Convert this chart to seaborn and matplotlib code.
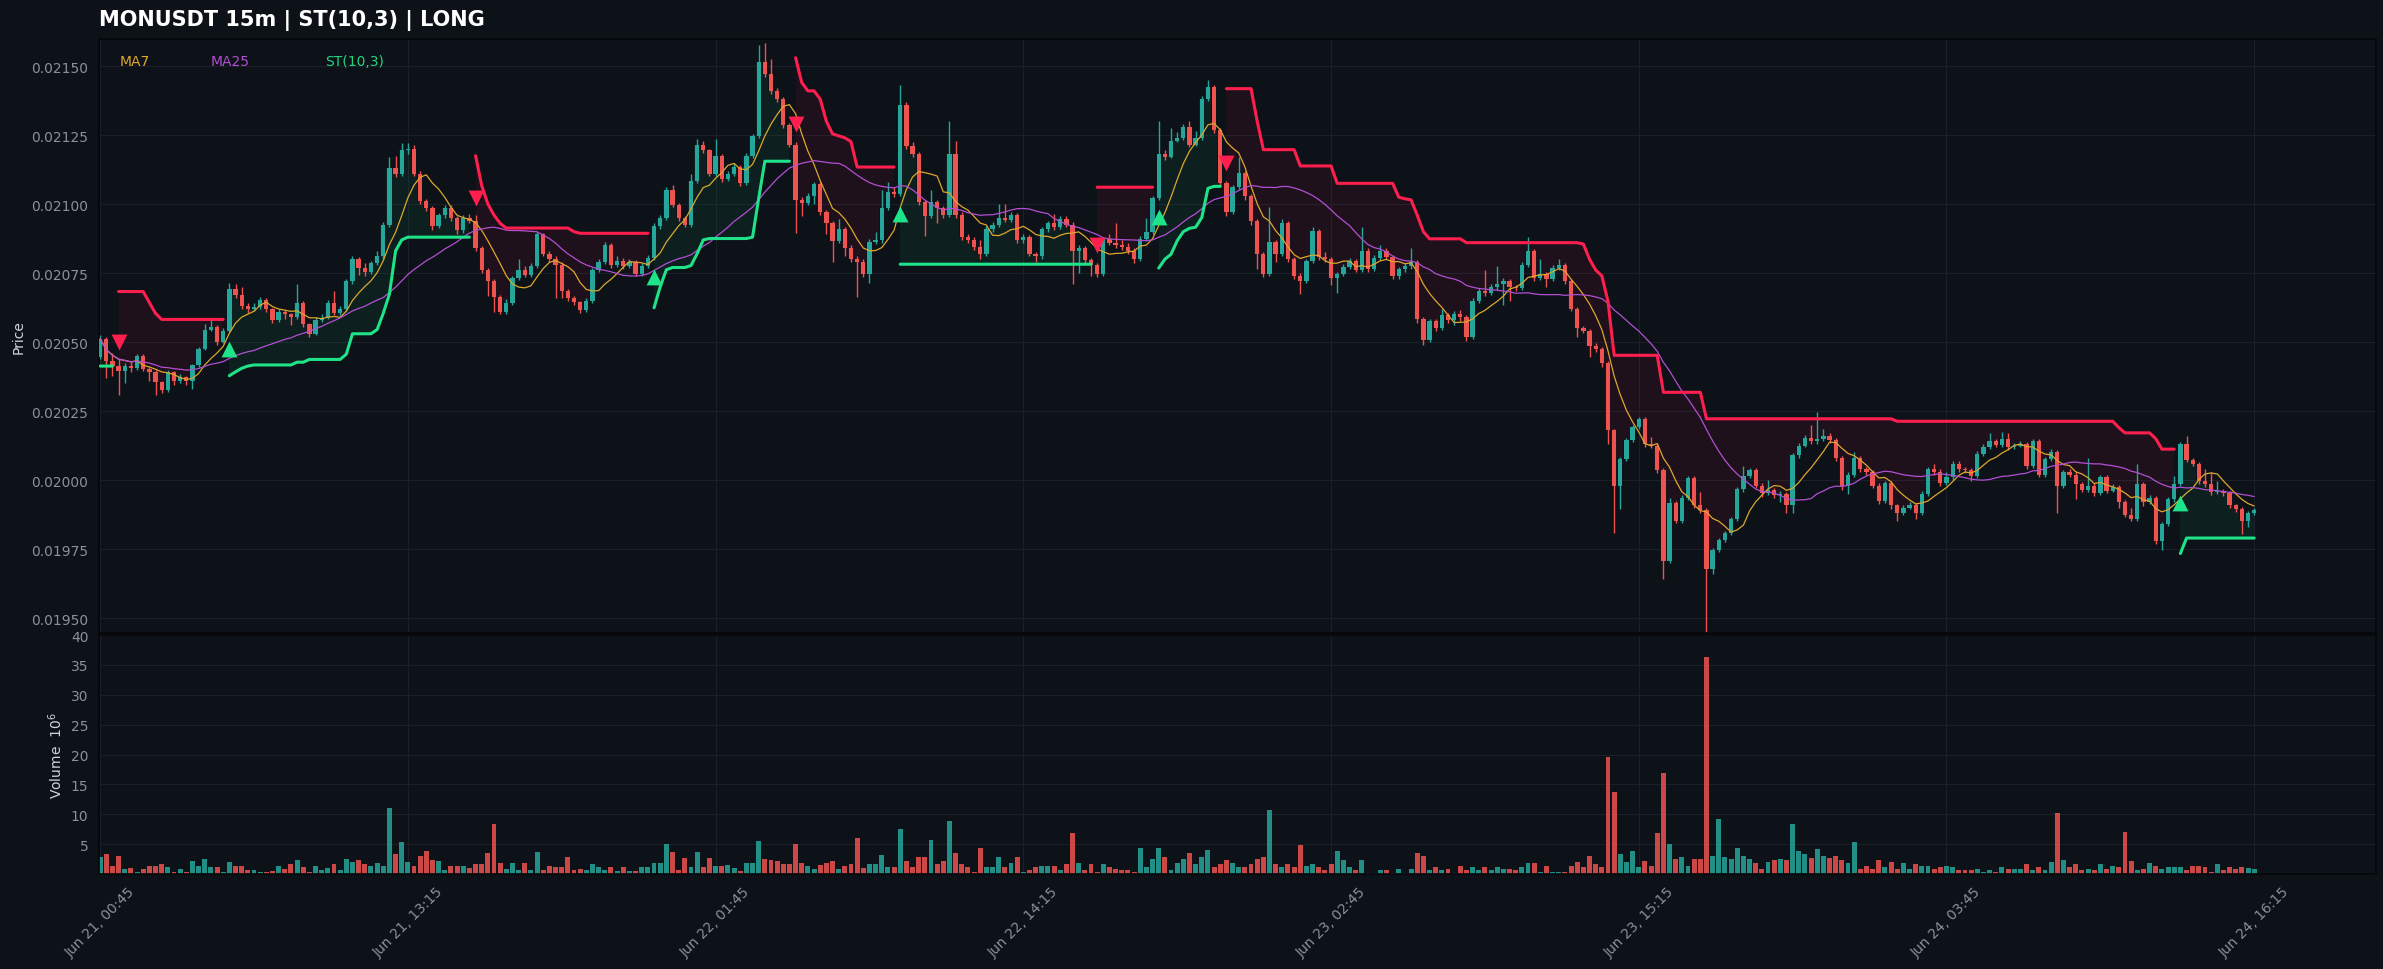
import numpy as np
import pandas as pd
import matplotlib
matplotlib.use("Agg")
import matplotlib.pyplot as plt
import seaborn as sns

bg = "#0d1118"
sns.set_theme(style="dark", rc={"axes.facecolor": bg, "figure.facecolor": bg,
                                "axes.edgecolor": "#05070a", "text.color": "#d0d4dc"})
plt.rcParams['font.family'] = ['DejaVu Sans']

UP = "#26a69a"
DOWN = "#ef5350"
ST_UP = "#1fe388"
ST_DOWN = "#ff1f4e"
MA7_C = "#dca72c"
MA25_C = "#b24fd2"
TICK_C = "#8b9099"

title = "MONUSDT 15m | ST(10,3) | LONG"
tick_labels = ["Jun 21, 00:45", "Jun 21, 13:15", "Jun 22, 01:45", "Jun 22, 14:15",
               "Jun 23, 02:45", "Jun 23, 15:15", "Jun 24, 03:45", "Jun 24, 16:15"]

# prices in units of 1e-6 USDT
opens = [
    20447, 20512, 20433, 20413, 20395, 20413, 20405, 20450, 20403, 20390,
    20355, 20328, 20390, 20360, 20372, 20358, 20417, 20476, 20545, 20555,
    20500, 20540, 20693, 20670, 20630, 20620, 20628, 20653, 20618, 20580,
    20610, 20600, 20590, 20640, 20565, 20530, 20580, 20588, 20640, 20605,
    20620, 20720, 20800, 20770, 20752, 20785, 20810, 20925, 21130, 21110,
    21195, 21200, 21110, 21010, 20985, 20920, 20960, 20985, 20950, 20905,
    20950, 20940, 20840, 20762, 20722, 20663, 20610, 20643, 20732, 20762,
    20742, 20775, 20890, 20820, 20800, 20780, 20685, 20660, 20645, 20615,
    20650, 20760, 20790, 20850, 20780, 20795, 20775, 20790, 20745, 20775,
    20805, 20920, 20950, 21050, 20998, 20950, 20925, 21085, 21215, 21195,
    21110, 21175, 21090, 21110, 21135, 21075, 21175, 21245, 21515, 21470,
    21410, 21380, 21285, 21215, 21015, 21005, 21030, 21071, 20972, 20930,
    20867, 20910, 20840, 20800, 20790, 20747, 20863, 20870, 20985, 21045,
    21035, 21360, 21210, 21180, 21008, 20958, 21008, 20985, 20960, 21183,
    20960, 20880, 20870, 20846, 20818, 20910, 20925, 20950, 20942, 20960,
    20868, 20880, 20820, 20810, 20910, 20930, 20915, 20944, 20925, 20830,
    20840, 20796, 20780, 20747, 20874, 20860, 20850, 20845, 20830, 20800,
    20874, 20900, 21022, 21183, 21170, 21230, 21240, 21280, 21215, 21240,
    21380, 21423, 21268, 21078, 20972, 21060, 21113, 21029, 20937, 20818,
    20747, 20863, 20818, 20930, 20800, 20740, 20722, 20793, 20902, 20807,
    20800, 20733, 20745, 20772, 20795, 20762, 20830, 20765, 20805, 20830,
    20808, 20738, 20764, 20775, 20790, 20585, 20508, 20575, 20550, 20597,
    20580, 20600, 20590, 20520, 20650, 20685, 20678, 20700, 20710, 20722,
    20700, 20695, 20780, 20830, 20733, 20745, 20727, 20770, 20778, 20720,
    20620, 20550, 20540, 20487, 20475, 20424, 20180, 19980, 20076, 20146,
    20193, 20220, 20130, 20124, 20037, 19706, 19917, 19853, 19936, 20007,
    19911, 19893, 19678, 19748, 19783, 19808, 19860, 19966, 20015, 20037,
    19980, 19952, 19965, 19945, 19950, 19910, 20090, 20125, 20152, 20140,
    20150, 20160, 20145, 20080, 19980, 20020, 20080, 20040, 20030, 19980,
    19925, 19990, 19910, 19880, 19900, 19910, 19880, 19950, 20040, 20030,
    19990, 20010, 20060, 20040, 20035, 20015, 20096, 20120, 20140, 20128,
    20150, 20120, 20125, 20130, 20050, 20140, 20020, 20075, 20100, 19980,
    20030, 20020, 19985, 19965, 19980, 19952, 20010, 19962, 19975, 19920,
    19875, 19860, 19985, 19920, 19935, 19780, 19840, 19930, 19985, 20130,
    20072, 20058, 19995, 19985, 19955, 19960, 19952, 19910, 19895, 19853,
    19880,
]
closes = [
    20512, 20433, 20413, 20395, 20413, 20405, 20450, 20403, 20390, 20355,
    20328, 20390, 20360, 20372, 20358, 20417, 20476, 20545, 20555, 20500,
    20540, 20693, 20670, 20630, 20620, 20628, 20653, 20618, 20580, 20610,
    20600, 20590, 20640, 20565, 20530, 20580, 20588, 20640, 20605, 20620,
    20720, 20800, 20770, 20752, 20785, 20810, 20925, 21130, 21110, 21195,
    21200, 21110, 21010, 20985, 20920, 20960, 20985, 20950, 20905, 20950,
    20940, 20840, 20762, 20722, 20663, 20610, 20643, 20732, 20762, 20742,
    20775, 20890, 20820, 20800, 20780, 20685, 20660, 20645, 20615, 20650,
    20760, 20790, 20850, 20780, 20795, 20775, 20790, 20745, 20775, 20805,
    20920, 20950, 21050, 20998, 20950, 20925, 21085, 21215, 21195, 21110,
    21175, 21090, 21110, 21135, 21075, 21175, 21245, 21515, 21470, 21410,
    21380, 21285, 21215, 21015, 21005, 21030, 21071, 20972, 20930, 20867,
    20910, 20840, 20800, 20790, 20747, 20863, 20870, 20985, 21045, 21035,
    21360, 21210, 21180, 21008, 20958, 21008, 20985, 20960, 21183, 20960,
    20880, 20870, 20846, 20818, 20910, 20925, 20950, 20942, 20960, 20868,
    20880, 20820, 20810, 20910, 20930, 20915, 20944, 20925, 20830, 20840,
    20796, 20780, 20747, 20874, 20860, 20850, 20845, 20830, 20800, 20874,
    20900, 21022, 21183, 21170, 21230, 21240, 21280, 21215, 21240, 21380,
    21423, 21268, 21078, 20972, 21060, 21113, 21029, 20937, 20818, 20747,
    20863, 20818, 20930, 20800, 20740, 20722, 20793, 20902, 20807, 20800,
    20733, 20745, 20772, 20795, 20762, 20830, 20765, 20805, 20830, 20808,
    20738, 20764, 20775, 20790, 20585, 20508, 20575, 20550, 20597, 20580,
    20600, 20590, 20520, 20650, 20685, 20678, 20700, 20710, 20722, 20700,
    20695, 20780, 20830, 20733, 20745, 20727, 20770, 20778, 20720, 20620,
    20550, 20540, 20487, 20475, 20424, 20180, 19980, 20076, 20146, 20193,
    20220, 20130, 20124, 20037, 19706, 19917, 19853, 19936, 20007, 19911,
    19893, 19678, 19748, 19783, 19808, 19860, 19966, 20015, 20037, 19980,
    19952, 19965, 19945, 19950, 19910, 20090, 20125, 20152, 20140, 20150,
    20160, 20145, 20080, 19980, 20020, 20080, 20040, 20030, 19980, 19925,
    19990, 19910, 19880, 19900, 19910, 19880, 19950, 20040, 20030, 19990,
    20010, 20060, 20040, 20035, 20015, 20096, 20120, 20140, 20128, 20150,
    20120, 20125, 20130, 20050, 20140, 20020, 20075, 20100, 19980, 20030,
    20020, 19985, 19965, 19980, 19952, 20010, 19962, 19975, 19920, 19875,
    19860, 19985, 19920, 19935, 19780, 19840, 19930, 19985, 20130, 20072,
    20058, 19995, 19985, 19955, 19960, 19952, 19910, 19895, 19853, 19880,
    19892,
]
highs = [
    20525, 20520, 20460, 20440, 20425, 20430, 20458, 20455, 20410, 20398,
    20360, 20398, 20395, 20385, 20378, 20420, 20482, 20565, 20585, 20562,
    20550, 20715, 20710, 20700, 20640, 20640, 20665, 20660, 20622, 20618,
    20615, 20605, 20710, 20648, 20570, 20590, 20600, 20652, 20685, 20630,
    20730, 20810, 20808, 20785, 20795, 20830, 20935, 21170, 21175, 21220,
    21220, 21215, 21118, 21020, 20992, 20968, 20995, 20995, 20955, 20962,
    20965, 20960, 20848, 20770, 20728, 20670, 20655, 20740, 20800, 20775,
    20785, 20898, 20895, 20830, 20810, 20790, 20692, 20668, 20650, 20660,
    20770, 20800, 20862, 20858, 20810, 20805, 20800, 20796, 20785, 20815,
    20930, 20962, 21060, 21070, 21005, 20958, 21110, 21235, 21230, 21200,
    21235, 21182, 21120, 21150, 21142, 21185, 21255, 21575, 21582, 21525,
    21420, 21388, 21292, 21225, 21025, 21040, 21080, 21080, 20980, 20940,
    20945, 20918, 20850, 20810, 20800, 20872, 20900, 21050, 21080, 21060,
    21430, 21370, 21225, 21190, 21015, 21050, 21015, 20992, 21300, 21230,
    20970, 20890, 20880, 20870, 20920, 20935, 21000, 21000, 20970, 20968,
    20890, 20888, 20828, 20918, 20940, 20965, 20955, 20955, 20935, 20850,
    20848, 20805, 20788, 20882, 20890, 20930, 20870, 20860, 20840, 20885,
    20950, 21030, 21300, 21195, 21275, 21260, 21290, 21300, 21265, 21392,
    21450, 21432, 21275, 21085, 21070, 21170, 21120, 21035, 20945, 20825,
    20990, 20870, 20945, 20940, 20808, 20750, 20800, 20918, 20910, 20825,
    20808, 20755, 20782, 20805, 20802, 20915, 20840, 20815, 20850, 20840,
    20815, 20772, 20785, 20840, 20798, 20592, 20582, 20582, 20620, 20605,
    20612, 20615, 20598, 20660, 20695, 20760, 20712, 20775, 20732, 20730,
    20708, 20790, 20880, 20838, 20800, 20752, 20778, 20800, 20785, 20728,
    20628, 20558, 20548, 20495, 20482, 20430, 20185, 20082, 20152, 20200,
    20228, 20228, 20155, 20132, 20045, 19935, 19925, 19945, 20015, 20015,
    19955, 19900, 19755, 19790, 19815, 19868, 19975, 20050, 20045, 20045,
    19988, 20000, 19972, 19960, 19958, 20098, 20135, 20162, 20200, 20245,
    20185, 20170, 20152, 20088, 20030, 20100, 20088, 20048, 20038, 19988,
    19998, 19998, 19915, 19910, 19920, 19918, 19960, 20048, 20060, 20040,
    20030, 20068, 20068, 20048, 20042, 20105, 20130, 20170, 20148, 20175,
    20170, 20135, 20140, 20138, 20148, 20148, 20085, 20112, 20108, 20038,
    20040, 20028, 19992, 20080, 19988, 20020, 20018, 19985, 19982, 19928,
    19900, 20060, 19992, 19945, 19942, 19848, 19938, 20015, 20138, 20160,
    20080, 20065, 20040, 20030, 19995, 19968, 19960, 19915, 19902, 19888,
    19900,
]
lows = [
    20437, 20368, 20378, 20309, 20350, 20392, 20398, 20395, 20360, 20309,
    20315, 20320, 20345, 20352, 20345, 20330, 20410, 20470, 20540, 20490,
    20495, 20535, 20660, 20620, 20605, 20612, 20620, 20610, 20570, 20572,
    20585, 20560, 20585, 20555, 20520, 20525, 20572, 20582, 20598, 20598,
    20612, 20712, 20742, 20740, 20745, 20778, 20800, 20915, 21098, 21100,
    21180, 21100, 21000, 20975, 20905, 20912, 20950, 20940, 20892, 20895,
    20930, 20830, 20750, 20668, 20610, 20600, 20600, 20635, 20725, 20735,
    20735, 20768, 20810, 20790, 20660, 20660, 20650, 20635, 20605, 20608,
    20642, 20752, 20782, 20770, 20772, 20765, 20768, 20738, 20738, 20768,
    20798, 20910, 20942, 20990, 20940, 20915, 20918, 21078, 21185, 21100,
    21102, 21080, 21082, 21102, 21065, 21068, 21168, 21238, 21460, 21400,
    21370, 21275, 21205, 20895, 20955, 20995, 21000, 20960, 20890, 20790,
    20860, 20810, 20790, 20665, 20735, 20715, 20855, 20860, 20978, 21025,
    21028, 21200, 21170, 20995, 20885, 20950, 20930, 20950, 20952, 20950,
    20870, 20860, 20835, 20800, 20810, 20900, 20918, 20935, 20935, 20858,
    20860, 20810, 20790, 20800, 20900, 20905, 20908, 20915, 20710, 20750,
    20785, 20740, 20735, 20740, 20850, 20840, 20835, 20820, 20788, 20792,
    20865, 20890, 21015, 21160, 21165, 21225, 21232, 21205, 21210, 21232,
    21372, 21258, 21068, 20955, 20965, 21055, 21015, 20925, 20765, 20735,
    20740, 20790, 20810, 20790, 20730, 20675, 20715, 20785, 20798, 20790,
    20705, 20678, 20738, 20765, 20752, 20755, 20755, 20758, 20798, 20800,
    20728, 20730, 20755, 20765, 20570, 20490, 20500, 20540, 20542, 20570,
    20560, 20575, 20505, 20512, 20642, 20668, 20670, 20690, 20635, 20650,
    20685, 20688, 20772, 20722, 20725, 20700, 20720, 20760, 20710, 20612,
    20520, 20532, 20445, 20465, 20410, 20130, 19810, 19895, 20068, 20138,
    20185, 20120, 20115, 20025, 19640, 19698, 19845, 19845, 19928, 19900,
    19880, 19427, 19660, 19740, 19775, 19800, 19852, 19958, 20008, 19970,
    19940, 19945, 19935, 19920, 19880, 19880, 20080, 20118, 20130, 20132,
    20142, 20135, 20070, 19965, 19950, 20010, 20030, 20020, 19970, 19915,
    19918, 19895, 19850, 19872, 19895, 19860, 19872, 19942, 20020, 19980,
    19982, 20002, 20030, 20025, 19995, 20008, 20088, 20112, 20118, 20120,
    20110, 20112, 20118, 20040, 20042, 20010, 20012, 20068, 19880, 19972,
    20010, 19930, 19955, 19958, 19942, 19945, 19952, 19955, 19900, 19865,
    19850, 19852, 19905, 19912, 19770, 19745, 19832, 19922, 19978, 20065,
    20050, 19985, 19975, 19945, 19948, 19942, 19900, 19885, 19805, 19830,
    19872,
]
# supertrend(10,3) level, same units
st_levels = [
    20413, 20413, 20413, 20683, 20683, 20683, 20683, 20683, 20643, 20604,
    20582, 20582, 20582, 20582, 20582, 20582, 20582, 20582, 20582, 20582,
    20582, 20378, 20392, 20405, 20413, 20417, 20417, 20417, 20417, 20417,
    20417, 20417, 20427, 20427, 20437, 20437, 20437, 20437, 20437, 20437,
    20456, 20530, 20530, 20530, 20530, 20545, 20604, 20673, 20830, 20870,
    20880, 20880, 20880, 20880, 20880, 20880, 20880, 20880, 20880, 20880,
    20880, 21175, 21067, 21000, 20960, 20930, 20913, 20913, 20913, 20913,
    20913, 20913, 20913, 20913, 20913, 20913, 20913, 20900, 20894, 20894,
    20894, 20894, 20894, 20894, 20894, 20894, 20894, 20894, 20894, 20894,
    20624, 20700, 20762, 20770, 20770, 20770, 20777, 20820, 20870, 20875,
    20875, 20875, 20875, 20875, 20875, 20875, 20880, 21020, 21155, 21155,
    21155, 21155, 21155, 21530, 21440, 21410, 21410, 21380, 21300, 21254,
    21247, 21240, 21226, 21134, 21134, 21134, 21134, 21134, 21134, 21134,
    20782, 20782, 20782, 20782, 20782, 20782, 20782, 20782, 20782, 20782,
    20782, 20782, 20782, 20782, 20782, 20782, 20782, 20782, 20782, 20782,
    20782, 20782, 20782, 20782, 20782, 20782, 20782, 20782, 20782, 20782,
    20782, 20782, 21061, 21061, 21061, 21061, 21061, 21061, 21061, 21061,
    21061, 21061, 20768, 20800, 20818, 20867, 20900, 20912, 20916, 20951,
    21057, 21064, 21064, 21418, 21418, 21418, 21418, 21418, 21300, 21197,
    21197, 21197, 21197, 21197, 21197, 21138, 21138, 21138, 21138, 21138,
    21138, 21075, 21075, 21075, 21075, 21075, 21075, 21075, 21075, 21075,
    21075, 21025, 21019, 21015, 20960, 20900, 20874, 20874, 20874, 20874,
    20874, 20874, 20860, 20860, 20860, 20860, 20860, 20860, 20860, 20860,
    20860, 20860, 20860, 20860, 20860, 20860, 20860, 20860, 20860, 20860,
    20860, 20855, 20800, 20761, 20740, 20647, 20452, 20452, 20452, 20452,
    20452, 20452, 20452, 20452, 20318, 20318, 20318, 20318, 20318, 20318,
    20318, 20222, 20222, 20222, 20222, 20222, 20222, 20222, 20222, 20222,
    20222, 20222, 20222, 20222, 20222, 20222, 20222, 20222, 20222, 20222,
    20222, 20222, 20222, 20222, 20222, 20222, 20222, 20222, 20222, 20222,
    20222, 20222, 20213, 20213, 20213, 20213, 20213, 20213, 20213, 20213,
    20213, 20213, 20213, 20213, 20213, 20213, 20213, 20213, 20213, 20213,
    20213, 20213, 20213, 20213, 20213, 20213, 20213, 20213, 20213, 20213,
    20213, 20213, 20213, 20213, 20213, 20213, 20213, 20213, 20190, 20171,
    20171, 20171, 20171, 20171, 20150, 20112, 20112, 20112, 19734, 19790,
    19790, 19790, 19790, 19790, 19790, 19790, 19790, 19790, 19790, 19790,
    19790,
]
# candles where the supertrend signal flips (read from the arrows); starts long
st_flips = [3, 21, 61, 90, 113, 130, 162, 172, 183, 338]
# volume in millions
volumes = [
    2.9, 3.3, 1.3, 3.0, 0.8, 1.0, 0.3, 0.9, 1.4, 1.3,
    1.6, 1.2, 0.3, 0.8, 0.4, 2.1, 1.4, 2.5, 1.1, 1.1,
    0.4, 2.0, 1.3, 1.3, 0.6, 0.7, 0.4, 0.4, 0.5, 1.3,
    0.8, 1.6, 2.3, 1.2, 0.3, 1.4, 0.7, 1.0, 1.6, 0.7,
    2.6, 2.0, 2.3, 1.6, 1.3, 1.8, 1.4, 11.1, 3.3, 5.4,
    2.0, 1.3, 3.1, 3.8, 2.3, 2.1, 0.6, 1.4, 1.4, 1.4,
    1.0, 1.6, 1.6, 3.6, 8.4, 1.8, 0.9, 1.8, 0.7, 1.8,
    0.7, 3.7, 0.7, 1.4, 1.2, 1.2, 2.8, 0.7, 0.9, 0.7,
    1.6, 1.2, 0.7, 1.2, 0.5, 1.2, 0.5, 0.5, 1.2, 1.2,
    1.9, 1.9, 5.0, 3.7, 0.7, 2.7, 1.2, 3.7, 1.2, 2.7,
    1.4, 1.4, 1.5, 1.0, 0.5, 1.9, 1.9, 5.5, 2.5, 2.4,
    2.1, 1.6, 1.6, 5.0, 1.9, 1.3, 0.9, 1.5, 1.8, 2.1,
    0.8, 1.3, 1.6, 6.1, 1.0, 1.6, 1.6, 3.2, 1.2, 1.2,
    7.6, 2.1, 1.1, 2.8, 2.9, 5.7, 1.6, 2.2, 8.8, 3.6,
    1.6, 1.2, 0.3, 4.3, 1.2, 1.2, 2.9, 1.2, 1.9, 2.9,
    0.4, 0.7, 1.2, 1.4, 1.4, 1.4, 0.6, 1.6, 6.8, 1.9,
    0.6, 1.6, 0.3, 1.6, 1.1, 0.8, 0.6, 0.6, 0.4, 4.3,
    1.2, 2.6, 4.3, 2.8, 0.6, 1.9, 2.6, 3.6, 1.6, 2.8,
    4.1, 1.1, 1.6, 2.3, 1.9, 1.1, 1.2, 1.6, 2.6, 2.9,
    10.7, 1.6, 1.2, 1.7, 1.1, 4.9, 1.4, 1.6, 1.2, 0.6,
    1.6, 3.9, 2.3, 1.2, 0.7, 2.3, 0.1, 0.1, 0.6, 0.6,
    0.1, 0.9, 0.1, 0.9, 3.6, 3.1, 0.6, 1.1, 0.7, 0.9,
    0.1, 1.4, 0.6, 1.2, 0.6, 1.1, 0.7, 1.1, 0.9, 0.9,
    0.7, 1.1, 1.8, 1.8, 0.4, 1.4, 0.4, 0.4, 0.4, 1.4,
    2.0, 1.1, 3.0, 1.6, 1.2, 19.6, 13.7, 3.3, 2.0, 3.8,
    1.1, 2.1, 1.3, 6.8, 16.9, 5.1, 2.6, 2.8, 1.4, 2.6,
    2.5, 36.3, 3.0, 9.2, 2.8, 2.6, 4.3, 3.0, 2.5, 1.8,
    0.9, 2.0, 2.3, 2.5, 2.3, 8.3, 3.8, 3.3, 2.7, 4.2,
    3.1, 2.7, 3.0, 2.3, 1.8, 5.3, 0.8, 1.3, 0.9, 2.3,
    1.1, 2.0, 0.9, 1.8, 0.9, 1.6, 1.4, 1.4, 0.9, 1.2,
    1.4, 1.1, 0.6, 0.6, 0.6, 0.9, 0.4, 0.7, 0.3, 1.1,
    0.9, 0.8, 0.8, 1.6, 0.6, 1.1, 0.6, 2.0, 10.2, 2.3,
    1.1, 1.6, 0.6, 0.9, 0.6, 1.6, 0.9, 1.4, 1.1, 7.0,
    2.1, 0.6, 0.9, 1.8, 1.4, 0.9, 1.2, 1.1, 1.2, 0.7,
    1.4, 1.4, 1.2, 0.4, 1.6, 0.6, 1.1, 0.9, 1.1, 1.0,
    0.9,
]

o = np.array(opens) / 1e6
c = np.array(closes) / 1e6
h = np.array(highs) / 1e6
l = np.array(lows) / 1e6
st = np.array(st_levels) / 1e6
vol = np.array(volumes)
n = len(c)
idx = np.arange(n)

close_s = pd.Series(c)
ma7 = close_s.rolling(7, min_periods=1).mean()
ma25 = close_s.rolling(25, min_periods=1).mean()

# trend direction between the flip candles
up = np.ones(n, dtype=bool)
trend = True
for i in range(n):
    if i in st_flips:
        trend = not trend
    up[i] = trend

bull = c >= o
cols = np.where(bull, UP, DOWN)

fig = plt.figure(figsize=(23.83, 9.70), dpi=100)
ax = fig.add_axes([0.0415, 0.3464, 0.9556, 0.6124])
axv = fig.add_axes([0.0415, 0.0979, 0.9556, 0.2464], sharex=ax)

# supertrend fills
ax.fill_between(idx, c, st, where=up, color=ST_UP, alpha=0.07, step="mid", lw=0, zorder=1)
ax.fill_between(idx, c, st, where=~up, color=ST_DOWN, alpha=0.07, step="mid", lw=0, zorder=1)

# candles
ax.vlines(idx, l, h, colors=cols, lw=1.0, zorder=2)
body = np.maximum(np.abs(c - o), 0.000004)
ax.bar(idx, body, bottom=np.minimum(o, c), width=0.7, color=cols, lw=0, zorder=3)

# moving averages
sns.lineplot(x=idx, y=ma7.values, ax=ax, color=MA7_C, linewidth=0.9, zorder=4)
sns.lineplot(x=idx, y=ma25.values, ax=ax, color=MA25_C, linewidth=0.9, zorder=4)

# supertrend lines
ax.plot(idx, np.where(up, st, np.nan), color=ST_UP, lw=2.2, zorder=5)
ax.plot(idx, np.where(~up, st, np.nan), color=ST_DOWN, lw=2.2, zorder=5)

# signal arrows
flips = np.array(st_flips)
buy = flips[up[flips]]
sell = flips[~up[flips]]
ax.scatter(buy, l[buy] * 0.997, marker="^", s=130, color=ST_UP, lw=0, zorder=6)
ax.scatter(sell, h[sell] * 1.003, marker="v", s=130, color=ST_DOWN, lw=0, zorder=6)

# volume
axv.bar(idx, vol, width=0.8, color=cols, alpha=0.85, lw=0)

for a in (ax, axv):
    a.set_facecolor(bg)
    a.grid(True, color="#1b202b", lw=0.7, ls="-")
    a.tick_params(colors=TICK_C, labelsize=10, length=4, color=TICK_C)
    for s in a.spines.values():
        s.set_color("#05070a")
        s.set_linewidth(1.2)

ax.set_xlim(-0.2, 369.8)
ax.set_ylim(0.019446, 0.021598)
ax.set_yticks(np.arange(0.0195, 0.021501, 0.00025))
ax.yaxis.set_major_formatter(matplotlib.ticker.FormatStrFormatter("%.5f"))
ax.tick_params(axis="x", labelbottom=False, length=0)
ax.set_ylabel("Price", color="#d0d4dc", fontsize=10)
ax.set_title(title, loc="left", color="white", fontsize=15, fontweight="bold", pad=10)

axv.set_ylim(0, 40)
axv.set_yticks(np.arange(5, 41, 5))
axv.set_xticks(np.arange(0, n, 50))
axv.set_xticklabels(tick_labels, rotation=45)
axv.set_ylabel("Volume  $10^6$", color="#d0d4dc", fontsize=10)

# legend-like labels
ax.text(0.0092, 0.963, "MA7", transform=ax.transAxes, color=MA7_C, fontsize=10, va="center")
ax.text(0.0492, 0.963, "MA25", transform=ax.transAxes, color=MA25_C, fontsize=10, va="center")
ax.text(0.0993, 0.963, "ST(10,3)", transform=ax.transAxes, color="#1fd67e", fontsize=10, va="center")

fig.savefig("out.png", dpi=100, facecolor=bg)
